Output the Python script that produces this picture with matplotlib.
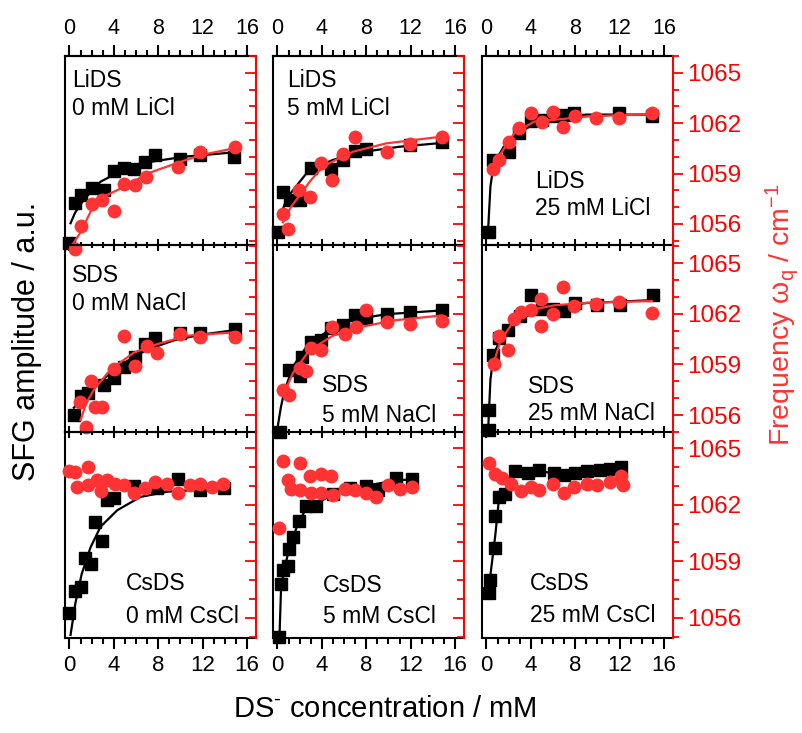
import matplotlib
matplotlib.use("Agg")
import matplotlib.pyplot as plt
from matplotlib.ticker import MultipleLocator

plt.rcParams["font.family"] = ["Liberation Sans", "DejaVu Sans"]
plt.rcParams["mathtext.fontset"] = "custom"
plt.rcParams["mathtext.rm"] = "Liberation Sans"
plt.rcParams["mathtext.it"] = "Liberation Sans:italic"

RED = "#ff3333"

# panel order: rows LiDS / SDS / CsDS, columns 0 / 5 / 25 mM salt
surfactants = ["LiDS", "LiDS", "LiDS", "SDS", "SDS", "SDS", "CsDS", "CsDS", "CsDS"]
salts = ["0 mM LiCl", "5 mM LiCl", "25 mM LiCl",
         "0 mM NaCl", "5 mM NaCl", "25 mM NaCl",
         "0 mM CsCl", "5 mM CsCl", "25 mM CsCl"]

# SFG amplitude (a.u., black squares)
sfg_x = [
    [0.0, 0.54, 1.0, 2.0, 3.1, 4.0, 4.9, 5.8, 6.8, 7.7, 10.0, 11.8, 14.8],
    [0.03, 0.48, 1.1, 2.0, 3.05, 4.85, 5.9, 7.0, 8.0, 11.9, 14.8],
    [0.2, 0.6, 2.0, 2.9, 4.0, 5.0, 6.0, 7.0, 7.9, 11.9, 14.9],
    [0.45, 1.0, 1.65, 3.1, 4.0, 4.9, 5.9, 6.8, 7.7, 10.0, 11.8, 14.9],
    [0.24, 1.0, 2.05, 2.2, 3.05, 3.95, 4.85, 5.9, 7.0, 8.0, 9.9, 11.9, 14.8],
    [0.2, 0.2, 0.6, 1.1, 1.9, 3.0, 4.0, 5.0, 6.0, 7.0, 8.0, 10.0, 12.0, 15.0],
    [0.0, 0.54, 1.0, 1.44, 1.9, 2.3, 2.9, 3.4, 4.0, 5.8, 7.9, 9.8, 11.8, 13.9],
    [0.18, 0.33, 0.48, 0.93, 1.0, 1.4, 1.9, 2.6, 3.5, 5.0, 6.5, 8.0, 9.1, 10.7, 12.1],
    [0.2, 0.3, 0.8, 0.8, 1.1, 1.7, 2.6, 3.7, 4.7, 6.1, 7.0, 8.0, 9.1, 10.2, 11.1, 12.1],
]
sfg_amp = [
    [0.01, 0.22, 0.265, 0.30, 0.29, 0.39, 0.41, 0.40, 0.44, 0.476, 0.455, 0.476, 0.467],
    [0.07, 0.28, 0.24, 0.24, 0.41, 0.40, 0.45, 0.50, 0.51, 0.53, 0.547],
    [0.07, 0.45, 0.49, 0.59, 0.655, 0.66, 0.68, 0.69, 0.70, 0.70, 0.685],
    [0.09, 0.19, 0.21, 0.25, 0.29, 0.35, 0.40, 0.47, 0.50, 0.53, 0.53, 0.55],
    [0.0, 0.33, 0.30, 0.40, 0.48, 0.49, 0.555, 0.57, 0.625, 0.61, 0.63, 0.64, 0.65],
    [0.01, 0.12, 0.41, 0.50, 0.545, 0.62, 0.73, 0.66, 0.66, 0.645, 0.69, 0.68, 0.68, 0.73],
    [0.12, 0.23, 0.25, 0.39, 0.36, 0.565, 0.47, 0.67, 0.68, 0.74, 0.73, 0.77, 0.72, 0.73],
    [0.006, 0.26, 0.33, 0.35, 0.43, 0.49, 0.57, 0.64, 0.64, 0.70, 0.73, 0.74, 0.72, 0.775, 0.77],
    [0.22, 0.28, 0.435, 0.59, 0.685, 0.70, 0.81, 0.80, 0.815, 0.80, 0.79, 0.80, 0.81, 0.815, 0.82, 0.83],
]
sfg_fit_x = [
    [0.1, 0.5, 1.3, 2.8, 4.9, 7.3, 10.3, 14.8],
    [0.24, 0.8, 1.4, 2.9, 5.0, 7.4, 11.0, 14.8],
    [0.15, 0.36, 0.66, 1.56, 2.8, 4.6, 6.1, 9.1, 14.9],
    [0.4, 1.6, 3.4, 5.2, 7.0, 9.4, 11.8, 14.9],
    [0.03, 0.3, 0.63, 1.4, 2.6, 4.4, 6.8, 9.8, 14.8],
    [0.15, 0.36, 0.66, 1.56, 3.1, 4.7, 6.1, 9.1, 14.9],
    [0.1, 0.54, 1.1, 1.9, 2.8, 4.3, 6.4, 8.8, 11.8, 14.1],
    [0.18, 0.33, 0.6, 1.0, 1.4, 1.9, 2.6, 3.5, 5.0, 6.5, 8.0, 10.7, 12.1],
    [0.2, 0.3, 0.8, 1.1, 1.7, 2.6, 3.7, 4.7, 6.1, 8.0, 10.2, 12.1],
]
sfg_fit = [
    [0.115, 0.17, 0.24, 0.335, 0.40, 0.44, 0.467, 0.49],
    [0.15, 0.24, 0.29, 0.40, 0.45, 0.49, 0.52, 0.54],
    [0.08, 0.31, 0.43, 0.52, 0.59, 0.65, 0.68, 0.69, 0.69],
    [0.13, 0.21, 0.30, 0.38, 0.44, 0.49, 0.52, 0.545],
    [0.03, 0.13, 0.22, 0.35, 0.455, 0.535, 0.60, 0.63, 0.65],
    [0.01, 0.28, 0.42, 0.53, 0.61, 0.64, 0.67, 0.69, 0.705],
    [0.015, 0.17, 0.31, 0.44, 0.54, 0.62, 0.685, 0.71, 0.72, 0.73],
    [0.0, 0.25, 0.33, 0.42, 0.49, 0.56, 0.63, 0.65, 0.70, 0.72, 0.74, 0.765, 0.77],
    [0.2, 0.28, 0.5, 0.66, 0.72, 0.79, 0.80, 0.81, 0.80, 0.80, 0.815, 0.83],
]

# frequency omega_q (cm-1, red circles)
freq_x = [
    [0.54, 1.0, 2.0, 2.9, 4.0, 4.9, 5.9, 6.9, 9.8, 11.8, 14.9],
    [0.48, 0.93, 1.9, 2.96, 3.95, 4.9, 5.9, 7.0, 9.9, 11.9, 14.8],
    [0.6, 1.1, 2.0, 2.9, 4.0, 5.0, 6.0, 6.9, 8.0, 9.9, 11.9, 14.9],
    [0.93, 1.5, 1.95, 2.3, 2.9, 4.0, 4.9, 5.9, 7.0, 7.9, 10.0, 11.8, 14.9],
    [0.48, 1.0, 2.05, 2.6, 3.05, 3.95, 4.95, 6.06, 7.05, 8.0, 9.9, 11.9, 14.8],
    [0.66, 1.1, 1.9, 2.5, 3.1, 4.0, 4.95, 4.95, 6.0, 6.9, 7.9, 9.9, 11.9, 14.9],
    [0.0, 0.54, 0.7, 1.7, 1.7, 2.5, 2.8, 3.4, 4.1, 4.9, 5.8, 6.8, 7.7, 8.8, 9.8,
     10.9, 11.8, 12.8, 13.8],
    [0.18, 0.5, 2.0, 0.93, 1.24, 2.0, 2.9, 3.05, 3.95, 3.95, 4.85, 5.0, 6.06, 6.96,
     8.0, 8.9, 10.0, 11.0, 12.1],
    [0.2, 0.8, 1.4, 2.2, 3.1, 4.0, 4.7, 6.0, 7.0, 7.9, 9.1, 10.0, 11.1, 12.1, 12.3],
]
freq = [
    [1054.5, 1055.9, 1057.2, 1057.4, 1056.8, 1058.4, 1058.3, 1058.8, 1059.4, 1060.3, 1060.6],
    [1056.6, 1055.7, 1058.0, 1057.6, 1059.65, 1058.6, 1060.15, 1061.15, 1060.3, 1060.75, 1061.15],
    [1059.3, 1059.8, 1060.9, 1061.7, 1062.6, 1062.1, 1062.65, 1061.8, 1062.4, 1062.3, 1062.3, 1062.6],
    [1056.8, 1055.3, 1058.0, 1056.5, 1056.5, 1058.7, 1060.7, 1058.9, 1060.1, 1059.7, 1060.8,
     1060.6, 1060.6],
    [1057.5, 1057.2, 1058.8, 1058.6, 1059.95, 1059.85, 1061.2, 1060.8, 1061.2, 1062.2, 1061.5,
     1061.4, 1061.6],
    [1059.0, 1060.7, 1059.85, 1061.7, 1062.1, 1062.2, 1062.85, 1061.3, 1062.0, 1063.6, 1062.45,
     1062.6, 1062.7, 1062.05],
    [1063.8, 1063.75, 1062.95, 1064.0, 1063.05, 1063.3, 1062.7, 1063.3, 1063.1, 1063.05, 1062.6,
     1062.9, 1063.2, 1063.1, 1062.6, 1063.05, 1063.1, 1062.95, 1063.1],
    [1060.75, 1064.3, 1064.2, 1063.3, 1062.85, 1062.8, 1063.5, 1062.6, 1063.6, 1062.6, 1063.5,
     1062.5, 1062.85, 1062.8, 1062.6, 1062.4, 1063.05, 1062.85, 1062.95],
    [1064.2, 1063.6, 1063.4, 1063.1, 1062.7, 1062.95, 1062.8, 1063.1, 1062.6, 1062.95, 1063.1,
     1063.05, 1063.2, 1063.5, 1063.05],
]
freq_fit_x = [
    [0.3, 1.0, 2.1, 3.3, 4.9, 7.0, 10.0, 11.8, 14.8],
    [0.5, 1.2, 2.0, 3.0, 4.1, 5.5, 6.8, 9.8, 14.8],
    [0.5, 1.3, 2.5, 4.3, 6.1, 9.1, 14.9],
    [1.0, 1.5, 2.2, 3.7, 5.8, 7.9, 10.6, 14.9],
    [0.54, 1.4, 2.9, 5.0, 7.4, 10.4, 14.8],
    [0.66, 1.27, 2.5, 4.6, 6.1, 9.1, 14.9],
    [], [], [],
]
freq_fit = [
    [1054.8, 1055.5, 1057.0, 1057.7, 1058.2, 1059.0, 1059.7, 1060.1, 1060.5],
    [1056.1, 1057.0, 1057.7, 1058.6, 1059.4, 1059.9, 1060.3, 1060.8, 1061.2],
    [1059.2, 1060.2, 1061.4, 1062.1, 1062.2, 1062.4, 1062.55],
    [1055.7, 1056.7, 1057.5, 1058.7, 1059.7, 1060.2, 1060.7, 1060.9],
    [1057.2, 1058.5, 1059.85, 1060.7, 1061.2, 1061.6, 1061.9],
    [1059.1, 1060.4, 1061.6, 1062.3, 1062.5, 1062.65, 1062.75],
    [], [], [],
]

W, H = 802, 733
col_left = [65, 273, 482]
row_top = [56, 245, 432]
row_bot = [245, 432, 638]
freq_lim = [(1054.75, 1066.0), (1055.0, 1066.07), (1054.94, 1065.85)]
# label anchor (x, y line1, y line2) in axes fraction
label_pos = [
    (0.037, 0.836, 0.688), (0.072, 0.836, 0.688), (0.277, 0.30, 0.159),
    (0.037, 0.80, 0.652), (0.257, 0.214, 0.053), (0.24, 0.209, 0.064),
    (0.32, 0.233, 0.073), (0.262, 0.223, 0.073), (0.251, 0.233, 0.078),
]

fig = plt.figure(figsize=(W / 100, H / 100), dpi=100)

for i in range(9):
    r, c = divmod(i, 3)
    rect = [col_left[c] / W, 1 - row_bot[r] / H, 191 / W,
            (row_bot[r] - row_top[r]) / H]
    ax = fig.add_axes(rect)
    ax.set_facecolor("none")
    ax2 = ax.twinx()
    ax.set_xlim(-0.4, 16.8)
    ax.set_ylim(0, 1)
    ax2.set_ylim(*freq_lim[r])

    ax.plot(sfg_fit_x[i], sfg_fit[i], color="black", lw=1.6, zorder=2)
    ax.plot(sfg_x[i], sfg_amp[i], "s", color="black", ms=9, clip_on=False, zorder=3)
    if freq_fit_x[i]:
        ax2.plot(freq_fit_x[i], freq_fit[i], color=RED, lw=1.6, zorder=4)
    ax2.plot(freq_x[i], freq[i], "o", color=RED, ms=10, mew=0, clip_on=False, zorder=3)

    for sp in ["left", "top", "bottom"]:
        ax.spines[sp].set_linewidth(1.5)
        ax2.spines[sp].set_visible(False)
    ax.spines["right"].set_visible(False)
    ax2.spines["right"].set_color("red")
    ax2.spines["right"].set_linewidth(1.5)

    ax.tick_params(axis="y", left=False, labelleft=False)
    ax.xaxis.set_major_locator(MultipleLocator(4))
    ax.xaxis.set_minor_locator(MultipleLocator(1))
    if r < 2:
        ax.tick_params(axis="x", which="major", direction="inout", length=9, width=1.5,
                       labelbottom=False)
        ax.tick_params(axis="x", which="minor", direction="inout", length=5, width=1.5)
    else:
        ax.tick_params(axis="x", which="major", direction="out", length=8, width=1.5,
                       labelsize=16, pad=4)
        ax.tick_params(axis="x", which="minor", direction="out", length=4.5, width=1.5)
    if r == 0:
        sec = ax.secondary_xaxis("top")
        sec.xaxis.set_major_locator(MultipleLocator(4))
        sec.xaxis.set_minor_locator(MultipleLocator(1))
        sec.spines["top"].set_linewidth(1.5)
        sec.tick_params(which="major", direction="out", length=8, width=1.5,
                        labelsize=15.5, pad=4)
        sec.tick_params(which="minor", direction="out", length=4.5, width=1.5)

    ax2.yaxis.set_major_locator(MultipleLocator(3))
    ax2.yaxis.set_minor_locator(MultipleLocator(1))
    if c < 2:
        ax2.tick_params(axis="y", which="major", direction="in", length=8, width=1.3,
                        color="red", labelright=False)
        ax2.tick_params(axis="y", which="minor", direction="in", length=5, width=1.3,
                        color="red")
    else:
        ax2.tick_params(axis="y", which="major", direction="out", length=7, width=1.3,
                        color="red", labelcolor="red", labelsize=17.5, pad=3)
        ax2.tick_params(axis="y", which="minor", direction="out", length=4.5, width=1.3,
                        color="red")

    fx, fy1, fy2 = label_pos[i]
    ax.text(fx, fy1, surfactants[i], transform=ax.transAxes, fontsize=16.5,
            va="baseline", ha="left", zorder=6)
    ax.text(fx, fy2, salts[i], transform=ax.transAxes, fontsize=16.5,
            va="baseline", ha="left", zorder=6)

fig.text(27 / W, 1 - 341 / H, "SFG amplitude / a.u.", rotation=90, fontsize=22,
         ha="center", va="center")
fig.text(782 / W, 1 - 315 / H, "Frequency ω$_\\mathrm{q}$ / cm$^{-1}$", rotation=90,
         fontsize=20.5, ha="center", va="center", color=RED)
fig.text(385 / W, 1 - 709 / H, "DS$^{\u2010}$ concentration / mM", fontsize=21,
         ha="center", va="center")

fig.savefig("out.png", dpi=100)
